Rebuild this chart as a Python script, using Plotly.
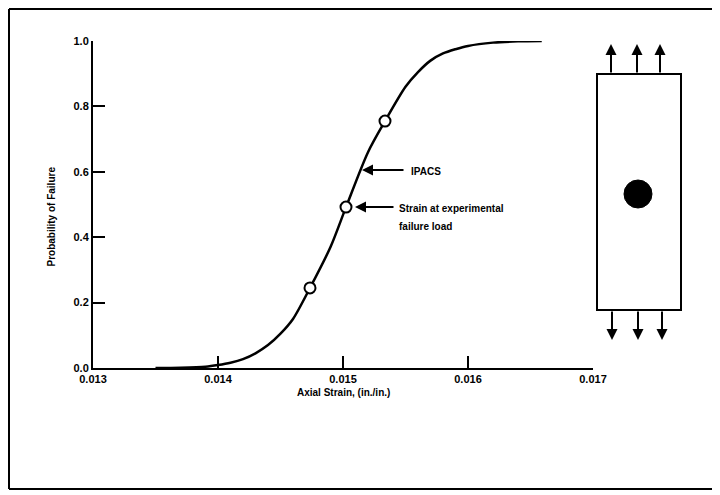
import plotly.graph_objects as go

# ---- data ----
strain = [0.0135, 0.0137, 0.0139, 0.0140, 0.0141, 0.0142, 0.0143, 0.0144, 0.0145, 0.0146,
          0.014736, 0.0149, 0.015024, 0.0152, 0.015336, 0.0155, 0.0156, 0.0157, 0.0158,
          0.0159, 0.0160, 0.0162, 0.0164, 0.01659]
prob = [0.0, 0.001, 0.004, 0.009, 0.016, 0.027, 0.045, 0.07, 0.105, 0.15,
        0.245, 0.37, 0.492, 0.66, 0.755, 0.86, 0.905, 0.94, 0.962,
        0.975, 0.985, 0.995, 0.999, 1.0]
marker_strain = [0.014736, 0.015024, 0.015336]
marker_prob = [0.245, 0.492, 0.755]

x_ticks = [0.013, 0.014, 0.015, 0.016, 0.017]
x_ticktext = ["0.013", "0.014", "0.015", "0.016", "0.017"]
y_ticks = [0.0, 0.2, 0.4, 0.6, 0.8, 1.0]
y_ticktext = ["0.0", "0.2", "0.4", "0.6", "0.8", "1.0"]

# ---- layout geometry (pixels) ----
OFF = 8  # page body margin
W, H = 720 - OFF, 495 - OFF
L, R, T, B = 85, 127, 33, 127
PW, PH = W - L - R, H - T - B


def px(x):
    # screen x pixel -> paper
    return (x - OFF - L) / PW


def py(y):
    # screen y pixel -> paper
    return (H - B - (y - OFF)) / PH


FONT = "Liberation Sans, Arial, sans-serif"
black = "#000000"

fig = go.Figure()
fig.add_trace(go.Scatter(x=strain, y=prob, mode="lines",
                         line=dict(color=black, width=2.5, shape="spline", smoothing=0.8),
                         hoverinfo="skip", showlegend=False))
fig.add_trace(go.Scatter(x=marker_strain, y=marker_prob, mode="markers",
                         marker=dict(symbol="circle", size=11, color="white",
                                     line=dict(color=black, width=2)),
                         showlegend=False))

axis_common = dict(showgrid=False, zeroline=False, showline=True, linecolor=black,
                   linewidth=2, ticks="inside", ticklen=12, tickwidth=2, tickcolor=black,
                   tickfont=dict(family=FONT, size=11, color=black, weight="bold"))
fig.update_xaxes(range=[0.013, 0.017], tickvals=x_ticks, ticktext=x_ticktext, **axis_common)
fig.update_yaxes(range=[0, 1.0], tickvals=y_ticks, ticktext=y_ticktext, **axis_common)

ann = []
ann.append(dict(text="Axial Strain, (in./in.)", xref="paper", yref="paper",
                x=px(343), y=py(400), showarrow=False,
                font=dict(family=FONT, size=10, color=black, weight="bold")))
ann.append(dict(text="Probability of Failure", xref="paper", yref="paper",
                x=px(44), y=py(217), showarrow=False, textangle=-90,
                font=dict(family=FONT, size=10, color=black, weight="bold")))
ann_font = dict(family=FONT, size=10, color=black, weight="bold")
ann.append(dict(text="", x=0.015152, y=0.6055, ax=0.015496, ay=0.6055,
                xref="x", yref="y", axref="x", ayref="y", showarrow=True,
                arrowhead=2, arrowsize=1.1, arrowwidth=2, arrowcolor=black))
ann.append(dict(text="IPACS", x=px(409), y=py(171), xref="paper", yref="paper",
                xanchor="left", showarrow=False, font=ann_font))
ann.append(dict(text="", x=0.015096, y=0.492, ax=0.015416, ay=0.492,
                xref="x", yref="y", axref="x", ayref="y", showarrow=True,
                arrowhead=2, arrowsize=1.1, arrowwidth=2, arrowcolor=black))
ann.append(dict(text="Strain at experimental", x=px(397), y=py(208), xref="paper", yref="paper",
                xanchor="left", showarrow=False, font=ann_font))
ann.append(dict(text="failure load", x=px(397), y=py(226), xref="paper", yref="paper",
                xanchor="left", showarrow=False, font=ann_font))

for xp in [611, 637, 660]:
    ann.append(dict(text="", x=px(xp), y=py(44), xref="paper", yref="paper",
                    ax=0, ay=30, showarrow=True, arrowhead=2, arrowsize=1.1,
                    arrowwidth=2, arrowcolor=black))
for xp in [612, 638, 662]:
    ann.append(dict(text="", x=px(xp), y=py(340), xref="paper", yref="paper",
                    ax=0, ay=-30, showarrow=True, arrowhead=2, arrowsize=1.1,
                    arrowwidth=2, arrowcolor=black))

FL, FT, FB, FR = 9, 9, 489, 720
shapes = [
    dict(type="line", xref="paper", yref="paper", x0=px(FL), y0=py(FT), x1=px(FL), y1=py(FB),
         line=dict(color=black, width=2)),
    dict(type="line", xref="paper", yref="paper", x0=px(FL), y0=py(FT), x1=px(FR), y1=py(FT),
         line=dict(color=black, width=2)),
    dict(type="line", xref="paper", yref="paper", x0=px(FL), y0=py(FB), x1=px(FR), y1=py(FB),
         line=dict(color=black, width=2)),
    dict(type="rect", xref="paper", yref="paper", x0=px(597), y0=py(74), x1=px(681), y1=py(310),
         line=dict(color=black, width=2), fillcolor="white"),
    dict(type="circle", xref="paper", yref="paper", x0=px(624), y0=py(180), x1=px(652), y1=py(208),
         line=dict(color=black, width=1), fillcolor=black),
]

fig.update_layout(width=W, height=H, autosize=False,
                  margin=dict(l=L, r=R, t=T, b=B),
                  plot_bgcolor="white", paper_bgcolor="white",
                  annotations=ann, shapes=shapes, showlegend=False)

fig.write_html("out.html")
